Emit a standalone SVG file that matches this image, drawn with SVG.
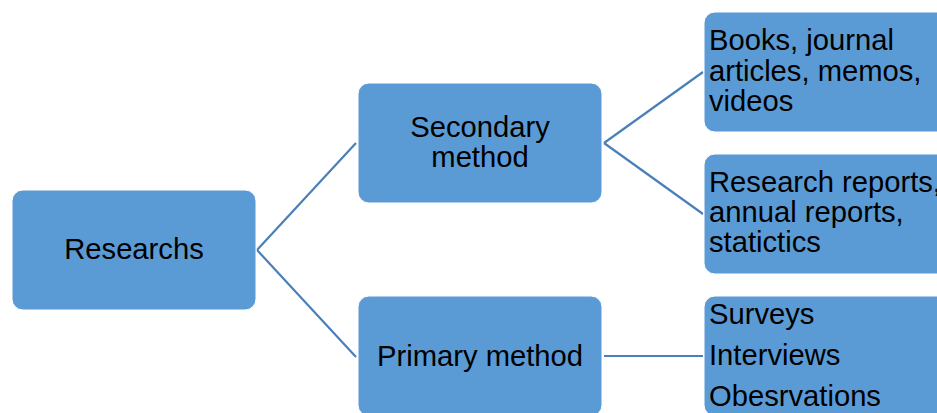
<svg xmlns="http://www.w3.org/2000/svg" width="937" height="413" viewBox="0 0 937 413">
<style>
.box{fill:#5b9bd5;stroke:#ffffff;stroke-width:1}
.t{font-family:"Liberation Sans",Arial,sans-serif;font-size:29.2px;fill:#000}
.c{text-anchor:middle}
.ln{stroke:#4a7fb8;stroke-width:2.2;fill:none}
</style>
<rect width="937" height="413" fill="#ffffff"/>
<g id="connectors">
<line class="ln" x1="257" y1="250" x2="356" y2="143"/>
<line class="ln" x1="257" y1="250" x2="356" y2="357"/>
<line class="ln" x1="604" y1="143" x2="703" y2="72"/>
<line class="ln" x1="604" y1="143" x2="703" y2="214"/>
<line class="ln" x1="604" y1="356" x2="703" y2="356"/>
</g>
<g id="researchs">
<rect class="box" x="12" y="190" width="244" height="120" rx="11"/>
<text class="t c" x="134" y="259">Researchs</text>
</g>
<g id="secondary">
<rect class="box" x="358" y="83" width="244" height="120" rx="11"/>
<text class="t c" x="480" y="137">Secondary</text>
<text class="t c" x="480" y="167">method</text>
</g>
<g id="primary">
<rect class="box" x="358" y="296" width="244" height="120" rx="11"/>
<text class="t c" x="480" y="366">Primary method</text>
</g>
<g id="books">
<rect class="box" x="704" y="12" width="244" height="120" rx="11"/>
<text class="t" x="709" y="50">Books, journal</text>
<text class="t" x="709" y="81">articles, memos,</text>
<text class="t" x="709" y="111">videos</text>
</g>
<g id="reports">
<rect class="box" x="704" y="154" width="244" height="120" rx="11"/>
<text class="t" x="709" y="192">Research reports,</text>
<text class="t" x="709" y="222">annual reports,</text>
<text class="t" x="709" y="252">statictics</text>
</g>
<g id="primary-items">
<rect class="box" x="704" y="296" width="244" height="120" rx="11"/>
<text class="t" x="709" y="324">Surveys</text>
<text class="t" x="709" y="365">Interviews</text>
<text class="t" x="709" y="406">Obesrvations</text>
</g>
</svg>
